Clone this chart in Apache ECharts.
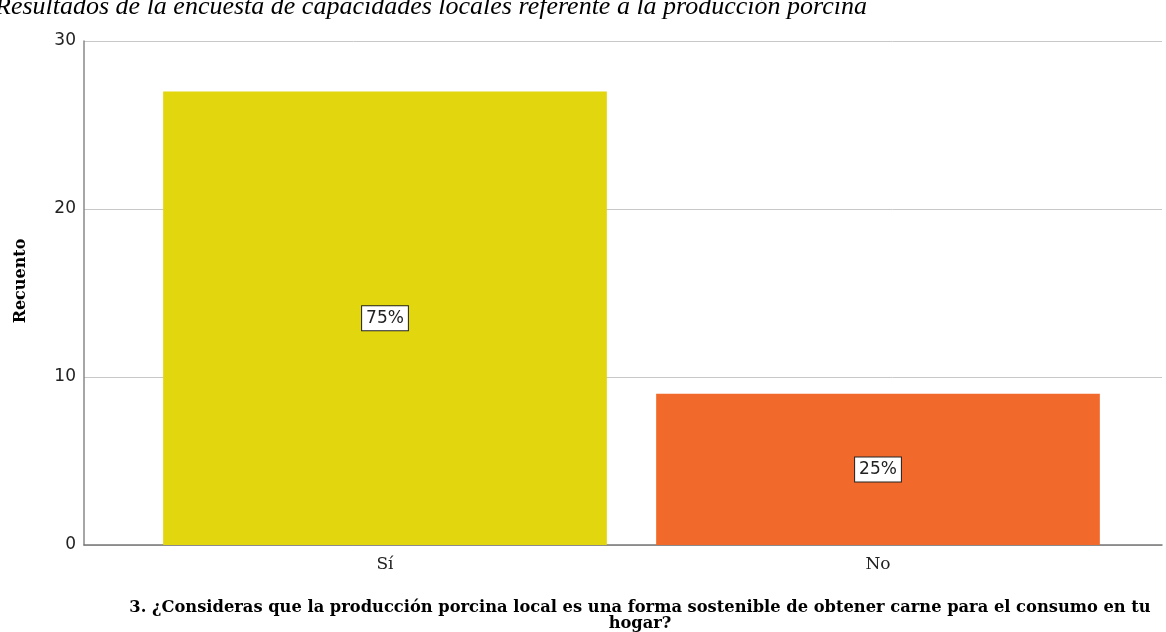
<!DOCTYPE html>
<html><head><meta charset="utf-8">
<script src="https://cdn.jsdelivr.net/npm/echarts@6/dist/echarts.min.js"></script>
<style>html,body{margin:0;padding:0;background:#fff}#c{width:1166px;height:632px}</style>
</head><body><div id="c"></div>
<script>
const categories = ['Sí', 'No'];
const counts = [27, 9];
const percentLabels = ['75%', '25%'];
const barColors = ['#e2d60e', '#f26a2b'];
const yTicks = [0, 10, 20, 30];
const headingText = 'Resultados de la encuesta de capacidades locales referente a la producción porcina';
const xTitle = '3. ¿Consideras que la producción porcina local es una forma sostenible de obtener carne para el consumo en tu\nhogar?';
const yTitle = 'Recuento';

const chart = echarts.init(document.getElementById('c'), null, {renderer: 'canvas'});
chart.setOption({
  animation: false,
  backgroundColor: '#fff',
  grid: [
    {left: 84, right: 4, top: 41, bottom: 87},
    {left: 138.5, right: 41.5, top: 41, bottom: 87}
  ],
  title: [{
    text: xTitle, left: 635, top: 595, textAlign: 'center',
    textStyle: {fontFamily: 'DejaVu Serif', fontWeight: 'bold', fontSize: 16.3, color: '#000', lineHeight: 16}
  }],
  graphic: [
    {type: 'text', left: -5, top: -6, style: {text: headingText, font: 'italic 26px "Liberation Serif"', fill: '#000'}},
    {type: 'text', x: 21, y: 281, rotation: Math.PI / 2, style: {text: yTitle, font: 'bold 16px "DejaVu Serif"', fill: '#000', align: 'center', verticalAlign: 'middle'}}
  ],
  xAxis: [
    {gridIndex: 0, type: 'category', data: [], axisLine: {show: true, lineStyle: {color: '#777', width: 1.5}}, axisTick: {show: false}, axisLabel: {show: false}},
    {gridIndex: 1, type: 'category', data: categories, axisLine: {show: false}, axisTick: {show: false},
     axisLabel: {margin: 11, fontFamily: 'DejaVu Serif', fontSize: 17, color: '#222'}}
  ],
  yAxis: [
    {gridIndex: 0, type: 'value', min: yTicks[0], max: yTicks[yTicks.length - 1], interval: 10,
     axisLine: {show: true, lineStyle: {color: '#888', width: 1.5}}, axisTick: {show: false},
     axisLabel: {margin: 8, fontFamily: 'DejaVu Sans', fontSize: 17, color: '#222'},
     splitLine: {show: true, lineStyle: {color: '#c8c8c8', width: 1}}},
    {gridIndex: 1, type: 'value', min: yTicks[0], max: yTicks[yTicks.length - 1], interval: 10, show: false, splitLine: {show: false}}
  ],
  series: [{
    type: 'bar', xAxisIndex: 1, yAxisIndex: 1, barCategoryGap: '10%',
    data: counts.map((v, i) => ({value: v, itemStyle: {color: barColors[i]}})),
    label: {
      show: true, position: 'inside',
      formatter: p => percentLabels[p.dataIndex],
      fontFamily: 'DejaVu Sans', fontSize: 17, color: '#222',
      backgroundColor: '#fff', borderColor: '#222', borderWidth: 1, padding: [4, 4, 3, 4]
    }
  }]
});
</script></body></html>
